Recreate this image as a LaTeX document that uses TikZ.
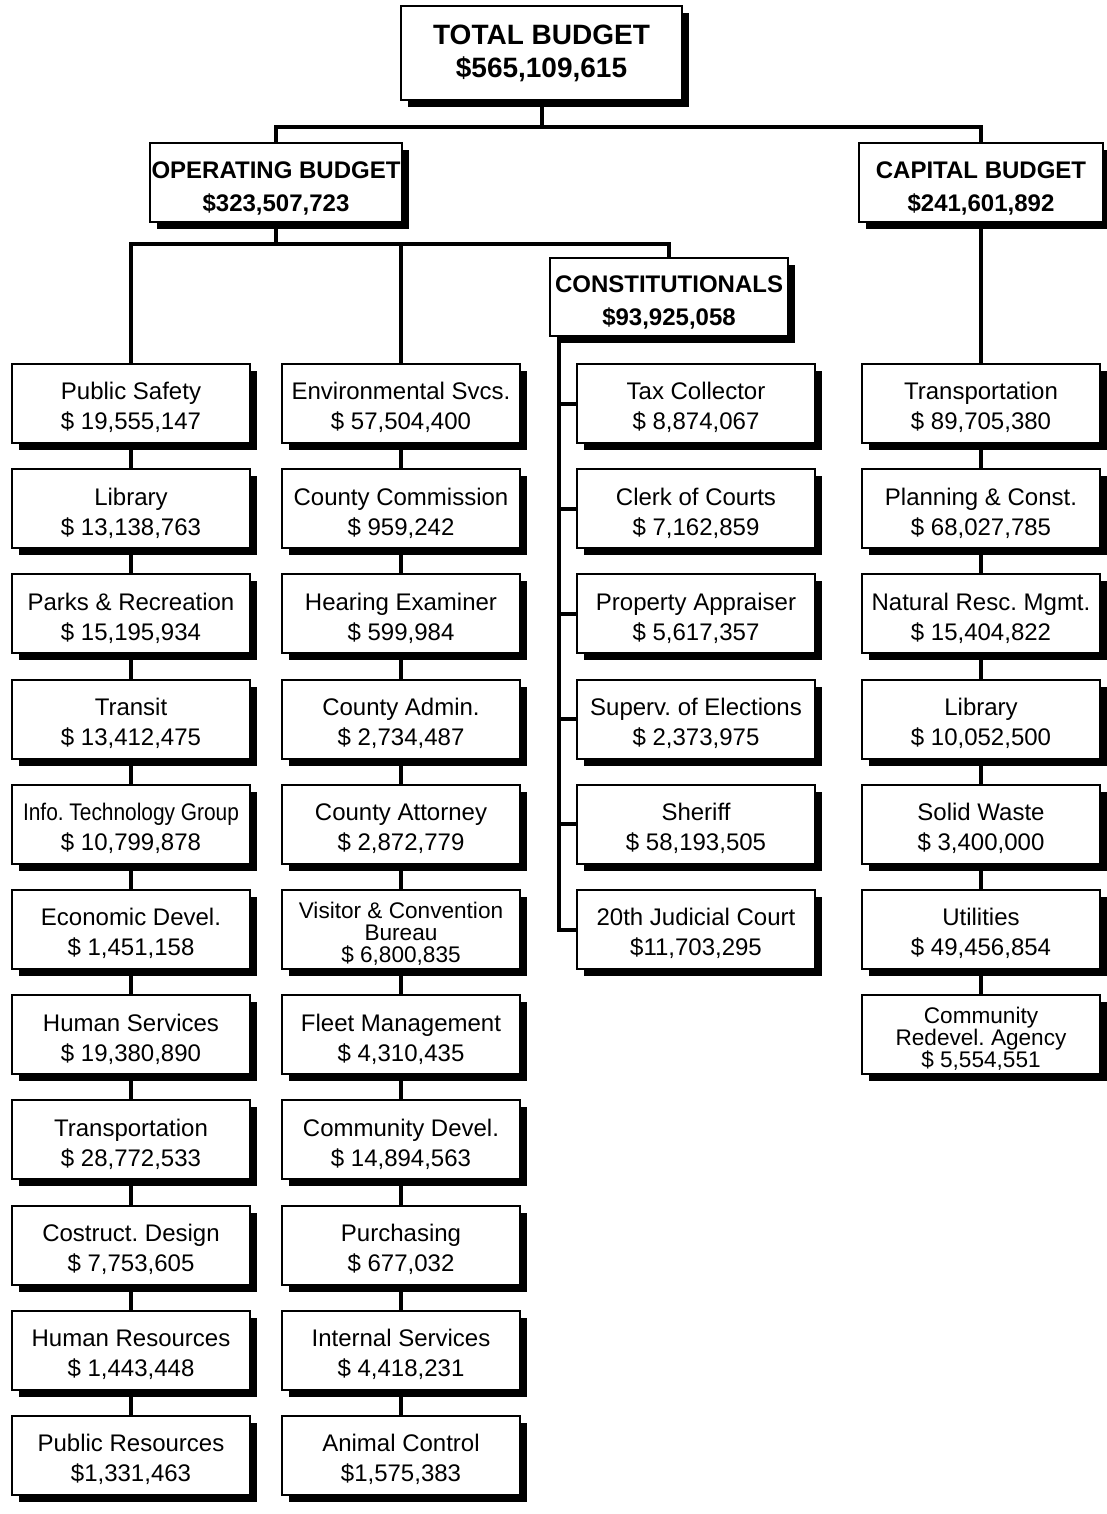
\documentclass[tikz,border=0pt]{standalone}
\usepackage{fontspec}
\setmainfont{Liberation Sans}
\usetikzlibrary{positioning,shadows}
\frenchspacing

\tikzset{
  box/.style={draw, line width=1pt, fill=white, minimum width=119pt,
    minimum height=39.5pt, inner sep=1pt, align=center,
    font=\fontsize{12}{15}\selectfont,
    drop shadow={shadow xshift=3.5pt, shadow yshift=-3.5pt, fill=black, opacity=1}},
  unit/.style={box, execute at begin node={\rule{0pt}{28pt}}},
  head/.style={box, font=\bfseries\fontsize{12}{16.5}\selectfont,
    execute at begin node={\rule{0pt}{30.5pt}}},
  tight/.style={font=\fontsize{11.3}{11}\selectfont,
    execute at begin node={\rule{0pt}{34.5pt}}},
  link/.style={line width=2pt},
}

\begin{document}
\begin{tikzpicture}[x=0.5pt, y=0.5pt, node distance=12.1pt]
    \useasboundingbox (0,0) rectangle (1107,-1514);

    % top levels
    \node[box, minimum width=140.5pt, minimum height=47pt,
        font=\bfseries\fontsize{14}{16.5}\selectfont] (total) at (541.5,-53)
        {TOTAL BUDGET\\\$565,109,615};
    \node[head, minimum width=126pt] (operating) at (276,-182.5)
        {OPERATING BUDGET\\\$323,507,723};
    \node[head, minimum width=122pt] (capital) at (981,-182.5)
        {CAPITAL BUDGET\\\$241,601,892};
    \node[head, minimum height=39pt] (constit) at (669,-297)
        {CONSTITUTIONALS\\\$93,925,058};

    % operating, first column
    \node[unit] (psafety) at (131,-403.5) {Public Safety\\\$ 19,555,147};
    \node[unit, below=of psafety] (library) {Library\\\$ 13,138,763};
    \node[unit, below=of library] (parks) {Parks \& Recreation\\\$ 15,195,934};
    \node[unit, below=of parks] (transit) {Transit\\\$ 13,412,475};
    \node[unit, below=of transit] (infotech)
        {\scalebox{0.87}[1]{Info. Technology Group}\\\$ 10,799,878};
    \node[unit, below=of infotech] (econdev) {Economic Devel.\\\$ 1,451,158};
    \node[unit, below=of econdev] (humserv) {Human Services\\\$ 19,380,890};
    \node[unit, below=of humserv] (transp) {Transportation\\\$ 28,772,533};
    \node[unit, below=of transp] (design) {Costruct. Design\\\$ 7,753,605};
    \node[unit, below=of design] (humres) {Human Resources\\\$ 1,443,448};
    \node[unit, below=of humres] (pubres) {Public Resources\\\$1,331,463};

    % operating, second column
    \node[unit] (envsvc) at (401,-403.5) {Environmental Svcs.\\\$ 57,504,400};
    \node[unit, below=of envsvc] (commission) {County Commission\\\$ 959,242};
    \node[unit, below=of commission] (hearing) {Hearing Examiner\\\$ 599,984};
    \node[unit, below=of hearing] (admin) {County Admin.\\\$ 2,734,487};
    \node[unit, below=of admin] (attorney) {County Attorney\\\$ 2,872,779};
    \node[unit, tight, below=of attorney] (visitor)
        {Visitor \& Convention\\Bureau\\\$ 6,800,835};
    \node[unit, below=of visitor] (fleet) {Fleet Management\\\$ 4,310,435};
    \node[unit, below=of fleet] (commdev) {Community Devel.\\\$ 14,894,563};
    \node[unit, below=of commdev] (purchasing) {Purchasing\\\$ 677,032};
    \node[unit, below=of purchasing] (intserv) {Internal Services\\\$ 4,418,231};
    \node[unit, below=of intserv] (animal) {Animal Control\\\$1,575,383};

    % constitutionals
    \node[unit] (taxcoll) at (696,-403.5) {Tax Collector\\\$ 8,874,067};
    \node[unit, below=of taxcoll] (clerk) {Clerk of Courts\\\$ 7,162,859};
    \node[unit, below=of clerk] (appraiser) {Property Appraiser\\\$ 5,617,357};
    \node[unit, below=of appraiser] (elections) {Superv. of Elections\\\$ 2,373,975};
    \node[unit, below=of elections] (sheriff) {Sheriff\\\$ 58,193,505};
    \node[unit, below=of sheriff] (judicial) {20th Judicial Court\\\$11,703,295};

    % capital
    \node[unit] (ctransp) at (981,-403.5) {Transportation\\\$ 89,705,380};
    \node[unit, below=of ctransp] (planning) {Planning \& Const.\\\$ 68,027,785};
    \node[unit, below=of planning] (natres) {Natural Resc. Mgmt.\\\$ 15,404,822};
    \node[unit, below=of natres] (clibrary) {Library\\\$ 10,052,500};
    \node[unit, below=of clibrary] (solidwaste) {Solid Waste\\\$ 3,400,000};
    \node[unit, below=of solidwaste] (utilities) {Utilities\\\$ 49,456,854};
    \node[unit, tight, below=of utilities] (redevel)
        {Community\\Redevel. Agency\\\$ 5,554,551};

    % buses
    \draw[link] (total.south) -- ++(0,-26) coordinate (topbus) -| (operating.north);
    \draw[link] (topbus) -| (capital.north);
    \draw[link] (operating.south) -- ++(0,-21) coordinate (opbus) -| (psafety.north);
    \draw[link] (opbus) -| (envsvc.north);
    \draw[link] (opbus) -| (constit.north);

    % column chains
    \draw[link] (psafety) -- (library) (library) -- (parks) (parks) -- (transit)
        (transit) -- (infotech) (infotech) -- (econdev) (econdev) -- (humserv)
        (humserv) -- (transp) (transp) -- (design) (design) -- (humres)
        (humres) -- (pubres);
    \draw[link] (envsvc) -- (commission) (commission) -- (hearing)
        (hearing) -- (admin) (admin) -- (attorney) (attorney) -- (visitor)
        (visitor) -- (fleet) (fleet) -- (commdev) (commdev) -- (purchasing)
        (purchasing) -- (intserv) (intserv) -- (animal);
    \draw[link] (capital) -- (ctransp) (ctransp) -- (planning)
        (planning) -- (natres) (natres) -- (clibrary) (clibrary) -- (solidwaste)
        (solidwaste) -- (utilities) (utilities) -- (redevel);

    % bracket for constitutionals
    \coordinate (spine) at ([xshift=5pt]constit.south west);
    \draw[link] (spine) |- (judicial.west);
    \foreach \n in {taxcoll,clerk,appraiser,elections,sheriff}
        \draw[link] (\n.west) -- (\n.west -| spine);
\end{tikzpicture}
\end{document}
